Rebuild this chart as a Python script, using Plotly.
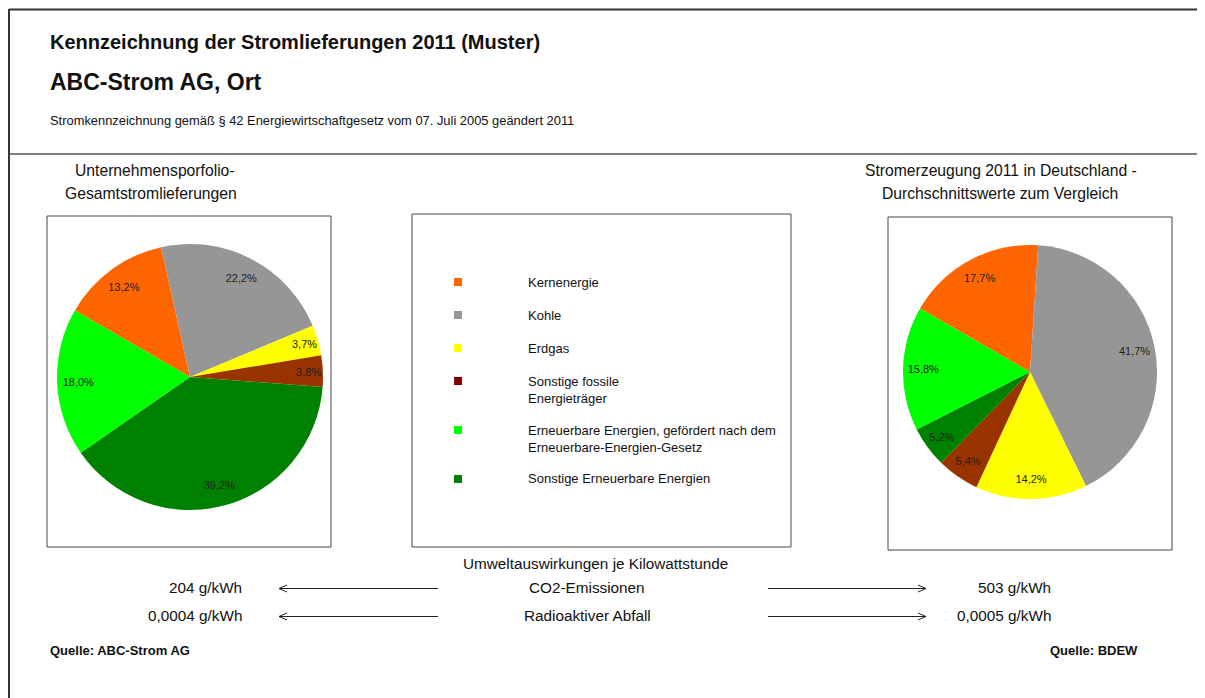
import plotly.graph_objects as go

# ---------------- data ----------------
categories = ["Kernenergie", "Kohle", "Erdgas", "Sonstige fossile Energieträger",
              "Sonstige Erneuerbare Energien",
              "Erneuerbare Energien, gefördert nach dem Erneuerbare-Energien-Gesetz"]
company_values = [13.2, 22.2, 3.7, 3.8, 39.2, 18.0]
germany_values = [17.7, 41.7, 14.2, 5.4, 5.2, 15.8]
slice_colors = ["#FF6600", "#969696", "#FFFF00", "#993300", "#008000", "#00FF00"]

legend_labels = ["Kernenergie", "Kohle", "Erdgas", "Sonstige fossile<br>Energieträger",
                 "Erneuerbare Energien, gefördert nach dem<br>Erneuerbare-Energien-Gesetz",
                 "Sonstige Erneuerbare Energien"]
legend_colors = ["#FF6600", "#969696", "#FFFF00", "#800000", "#00FF00", "#008000"]

impact_labels = ["CO2-Emissionen", "Radioaktiver Abfall"]
company_impacts = ["204 g/kWh", "0,0004 g/kWh"]
germany_impacts = ["503 g/kWh", "0,0005 g/kWh"]

W, H = 1205, 698
OFF = 8  # page body margin in the browser
FONT = "Arial, Liberation Sans, sans-serif"


def X(px):
    return (px - OFF) / W


def Y(py):
    return 1 - (py - OFF) / H


fig = go.Figure()

pies = [
    (company_values, dict(x=[X(57), X(323)], y=[Y(510), Y(244)])),
    (germany_values, dict(x=[X(903), X(1157)], y=[Y(499), Y(245)])),
]
for vals, dom in pies:
    # solid pie
    fig.add_trace(go.Pie(
        labels=categories, values=vals, sort=False, direction="clockwise",
        rotation=-60, marker=dict(colors=slice_colors, line=dict(width=0)),
        textinfo="none", domain=dom, showlegend=False, hoverinfo="label+value"))
    # transparent ring carrying the percentage labels near the rim
    fig.add_trace(go.Pie(
        labels=categories, values=vals, sort=False, direction="clockwise",
        rotation=-60, hole=0.68,
        marker=dict(colors=["rgba(0,0,0,0)"] * len(vals), line=dict(width=0)),
        texttemplate="%{value:.1f}%", textposition="inside", insidetextorientation="horizontal",
        textfont=dict(family=FONT, size=11, color="#222222"),
        domain=dom, showlegend=False, hoverinfo="skip"))

shapes = []
annotations = []
BORDER = "#333333"

# page frame
shapes.append(dict(type="line", xref="paper", yref="paper", x0=X(9), x1=X(1215), y0=Y(9.5), y1=Y(9.5),
                   line=dict(color=BORDER, width=2)))
shapes.append(dict(type="line", xref="paper", yref="paper", x0=X(9), x1=X(9), y0=Y(9), y1=Y(710),
                   line=dict(color=BORDER, width=2)))
shapes.append(dict(type="line", xref="paper", yref="paper", x0=X(9), x1=X(1215), y0=Y(154), y1=Y(154),
                   line=dict(color="#555555", width=1.5)))

# boxes
for (x0, y0, x1, y1) in [(47, 216, 331, 547), (412, 214, 791, 547), (888, 217, 1172, 550)]:
    shapes.append(dict(type="rect", xref="paper", yref="paper", x0=X(x0), x1=X(x1), y0=Y(y0), y1=Y(y1),
                       line=dict(color="#444444", width=1)))


def txt(x, y, s, size=12, bold=False, xanchor="left", color="#111111", yanchor="middle"):
    annotations.append(dict(
        xref="paper", yref="paper", x=X(x), y=Y(y), text=f"<b>{s}</b>" if bold else s,
        showarrow=False, xanchor=xanchor, yanchor=yanchor, align=xanchor if xanchor != "center" else "center",
        font=dict(family=FONT, size=size, color=color)))


# header
txt(48, 42, "Kennzeichnung der Stromlieferungen 2011 (Muster)", size=20, bold=True)
txt(48, 82, "ABC-Strom AG, Ort", size=23, bold=True)
txt(48, 120, "Stromkennzeichnung gemäß § 42 Energiewirtschaftgesetz vom 07. Juli 2005 geändert 2011", size=12.9)

# pie titles
txt(155, 170, "Unternehmensporfolio-", size=15.7, xanchor="center")
txt(151, 193, "Gesamtstromlieferungen", size=15.7, xanchor="center")
txt(1001, 170, "Stromerzeugung 2011 in Deutschland -", size=15.7, xanchor="center")
txt(1000, 193, "Durchschnittswerte zum Vergleich", size=15.7, xanchor="center")

# legend
y_pos = 282
for lab, col in zip(legend_labels, legend_colors):
    shapes.append(dict(type="rect", xref="paper", yref="paper", x0=X(454), x1=X(462),
                       y0=Y(y_pos - 4), y1=Y(y_pos + 4), fillcolor=col, line=dict(width=0)))
    txt(526, y_pos - 9.5, lab, size=13, yanchor="top", color="#111111")
    n_lines = lab.count("<br>") + 1
    y_pos += 33 + 16 * (n_lines - 1)

# environmental impact
txt(595, 563, "Umweltauswirkungen je Kilowattstunde", size=15.3, xanchor="center")
for i, (lab, left_v, right_v) in enumerate(zip(impact_labels, company_impacts, germany_impacts)):
    yy = 587 + 28 * i
    ya = yy + 1.5
    txt(244, yy, left_v, size=15.3, xanchor="right")
    txt(587, yy, lab, size=15.3, xanchor="center")
    txt(1053, yy, right_v, size=15.3, xanchor="right")
    # left arrow
    shapes.append(dict(type="line", xref="paper", yref="paper", x0=X(438), x1=X(279), y0=Y(ya), y1=Y(ya),
                       line=dict(color="#222222", width=1)))
    shapes.append(dict(type="line", xref="paper", yref="paper", x0=X(279), x1=X(287), y0=Y(ya), y1=Y(ya - 3.5),
                       line=dict(color="#222222", width=1)))
    shapes.append(dict(type="line", xref="paper", yref="paper", x0=X(279), x1=X(287), y0=Y(ya), y1=Y(ya + 3.5),
                       line=dict(color="#222222", width=1)))
    # right arrow
    shapes.append(dict(type="line", xref="paper", yref="paper", x0=X(768), x1=X(926), y0=Y(ya), y1=Y(ya),
                       line=dict(color="#222222", width=1)))
    shapes.append(dict(type="line", xref="paper", yref="paper", x0=X(926), x1=X(918), y0=Y(ya), y1=Y(ya - 3.5),
                       line=dict(color="#222222", width=1)))
    shapes.append(dict(type="line", xref="paper", yref="paper", x0=X(926), x1=X(918), y0=Y(ya), y1=Y(ya + 3.5),
                       line=dict(color="#222222", width=1)))

txt(48, 650, "Quelle: ABC-Strom AG", size=13, bold=True)
txt(1140, 650, "Quelle: BDEW", size=13, bold=True, xanchor="right")

fig.update_layout(
    width=W, height=H, margin=dict(l=0, r=0, t=0, b=0),
    paper_bgcolor="white", plot_bgcolor="white",
    separators=",.",
    shapes=shapes, annotations=annotations,
    font=dict(family=FONT),
)

fig.write_html("out.html")
